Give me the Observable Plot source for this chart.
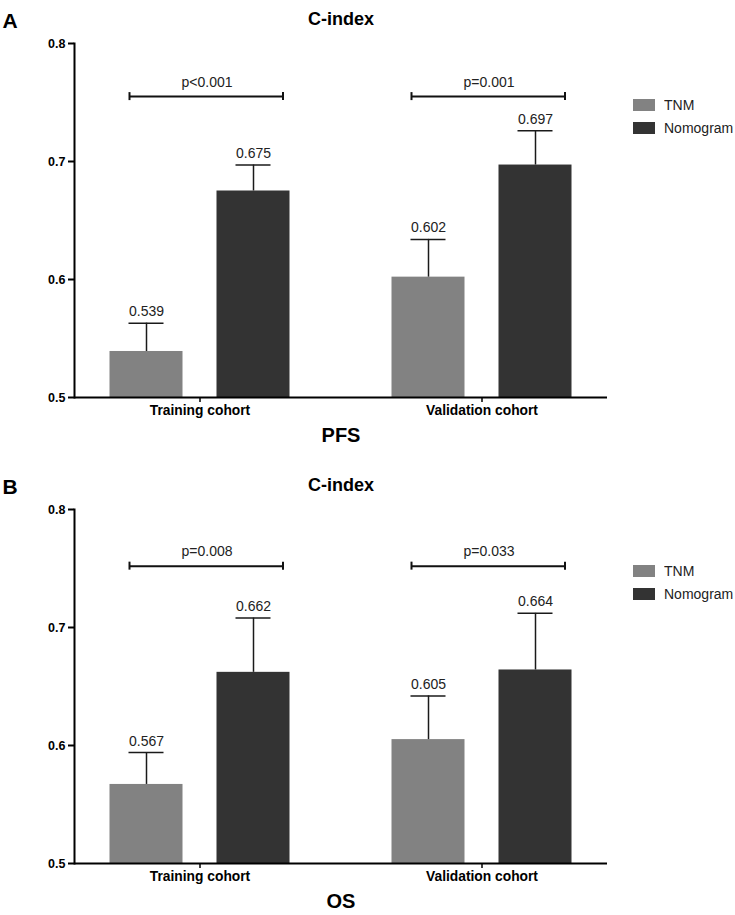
<!DOCTYPE html>
<html><head><meta charset="utf-8">
<script src="https://cdn.jsdelivr.net/npm/d3@7"></script>
<script src="https://cdn.jsdelivr.net/npm/@observablehq/plot@0.6"></script>
<style>
body{margin:0;background:#fff;font-family:"Liberation Sans",Arial,sans-serif}
#wrap{position:relative;width:735px;height:915px;overflow:hidden}
.panel{position:relative;width:735px}
.panel svg{display:block}
.legwrap{position:absolute;left:633px;top:97px}
.legwrap, .legwrap *{font-family:"Liberation Sans",Arial,sans-serif;font-size:14px;color:#222}
.lg-swatch{padding-bottom:7px;line-height:16px}
.lg-swatch svg{margin-right:9px}
</style></head><body><div id="wrap"></div>
<script>
// ---- data ----
const cohorts = ["Training cohort", "Validation cohort"];
const models = ["TNM", "Nomogram"];
const modelColors = ["#828282", "#333333"];
const yTicks = [0.5, 0.6, 0.7, 0.8];
const yDomain = [0.5, 0.8];

const pfsTNM = [0.539, 0.602];
const pfsTNMUpper = [0.563, 0.634];
const pfsNomogram = [0.675, 0.697];
const pfsNomogramUpper = [0.697, 0.726];
const pfsP = ["p<0.001", "p=0.001"];
const pfsBracket = 0.755;

const osTNM = [0.567, 0.605];
const osTNMUpper = [0.594, 0.642];
const osNomogram = [0.662, 0.664];
const osNomogramUpper = [0.708, 0.712];
const osP = ["p=0.008", "p=0.033"];
const osBracket = 0.752;

const panels = [
  {letter: "A", title: "C-index", outcome: "PFS", height: 466, marginBottom: 69,
   values: [pfsTNM, pfsNomogram], uppers: [pfsTNMUpper, pfsNomogramUpper], p: pfsP, bracket: pfsBracket},
  {letter: "B", title: "C-index", outcome: "OS", height: 449, marginBottom: 52,
   values: [osTNM, osNomogram], uppers: [osTNMUpper, osNomogramUpper], p: osP, bracket: osBracket}
];

const dodge = {TNM: -53.5, Nomogram: 53.5};
const errColor = "#1a1a1a";

function makePanel(P) {
  const rows = [];
  models.forEach((m, mi) => cohorts.forEach((c, ci) => rows.push({
    cohort: c, model: m, value: P.values[mi][ci], upper: P.uppers[mi][ci], base: yDomain[0]
  })));
  const br = cohorts.map((c, i) => ({cohort: c, y: P.bracket, p: P.p[i]}));

  const modelMarks = models.flatMap(m => {
    const d = rows.filter(r => r.model === m);
    const dx = dodge[m];
    return [
      Plot.barY(d, {x: "cohort", y1: "base", y2: "value", fill: "model", dx}),
      Plot.ruleX(d, {x: "cohort", y1: "value", y2: "upper", dx, stroke: errColor, strokeWidth: 1.5}),
      Plot.tickY(d, {x: "cohort", y: "upper", dx, insetLeft: 19, insetRight: 19, stroke: errColor, strokeWidth: 1.5}),
      Plot.text(d, {x: "cohort", y: "upper", text: r => r.value.toFixed(3), dx, dy: -7, lineAnchor: "bottom", fontSize: 14, fill: "#222"})
    ];
  });

  return Plot.plot({
    width: 735,
    height: P.height,
    marginLeft: 74,
    marginRight: 128,
    marginTop: 43,
    marginBottom: P.marginBottom,
    style: {fontFamily: "'Liberation Sans', Arial, sans-serif", background: "#fff", color: "#000", overflow: "visible"},
    x: {type: "band", domain: cohorts, paddingInner: 0.742, paddingOuter: 0.3127, label: null},
    y: {domain: yDomain, label: null},
    color: {domain: models, range: modelColors},
    marks: [
      ...modelMarks,
      Plot.tickY(br, {x: "cohort", y: "y", insetLeft: -34, insetRight: -46.5, stroke: "#111", strokeWidth: 2}),
      Plot.ruleX(br, {x: "cohort", y1: "y", y2: "y", dx: -70.5, insetTop: -4, insetBottom: -4, stroke: "#111", strokeWidth: 2}),
      Plot.ruleX(br, {x: "cohort", y1: "y", y2: "y", dx: 83, insetTop: -4, insetBottom: -4, stroke: "#111", strokeWidth: 2}),
      Plot.text(br, {x: "cohort", y: "y", text: "p", dx: 7, dy: -10, lineAnchor: "bottom", fontSize: 14, fill: "#222"}),
      Plot.ruleY([yDomain[0]], {stroke: "#000", strokeWidth: 2}),
      Plot.frame({anchor: "left", stroke: "#000", strokeWidth: 2}),
      Plot.axisY({ticks: yTicks, tickFormat: ".1f", tickSize: 6, tickPadding: 3, fontSize: 12.5, fontWeight: "bold", strokeWidth: 2, label: null}),
      Plot.axisX({tickSize: 5, tickPadding: 3, fontSize: 13.8, fontWeight: "bold", strokeWidth: 1.5, label: null}),
      Plot.text([P.title], {text: d => d, frameAnchor: "top", dy: -31, fontSize: 18, fontWeight: "bold"}),
      Plot.text([P.letter], {text: d => d, frameAnchor: "top-left", textAnchor: "start", dx: -72, dy: -30.5, fontSize: 21, fontWeight: "bold"}),
      Plot.text([P.outcome], {text: d => d, frameAnchor: "bottom", dy: 44, fontSize: 20, fontWeight: "bold"})
    ]
  });
}

const wrap = document.getElementById("wrap");
panels.forEach(P => {
  const div = document.createElement("div");
  div.className = "panel";
  div.appendChild(makePanel(P));
  const lw = document.createElement("div");
  lw.className = "legwrap";
  lw.appendChild(Plot.legend({
    color: {domain: models, range: modelColors},
    legend: "swatches", columns: 1, swatchWidth: 22, swatchHeight: 12, className: "lg"
  }));
  div.appendChild(lw);
  wrap.appendChild(div);
});
</script></body></html>
